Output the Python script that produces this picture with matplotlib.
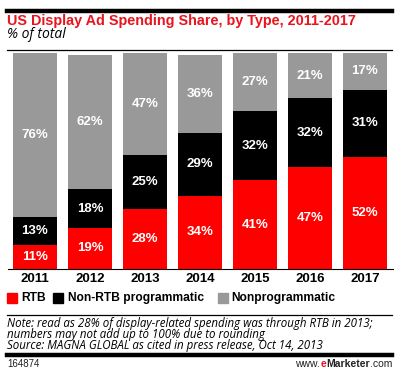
import matplotlib
matplotlib.use("Agg")
import matplotlib.pyplot as plt
from matplotlib.lines import Line2D
from matplotlib.patches import Rectangle

years = ["2011", "2012", "2013", "2014", "2015", "2016", "2017"]
rtb = [11, 19, 28, 34, 41, 47, 52]
non_rtb = [13, 18, 25, 29, 32, 32, 31]
nonprog = [76, 62, 47, 36, 27, 21, 17]
series_names = ["RTB", "Non-RTB programmatic", "Nonprogrammatic"]
colors = ["#ff0000", "#000000", "#999999"]

plt.rcParams["font.family"] = ["Liberation Sans", "DejaVu Sans"]

W, H = 405, 377
fig = plt.figure(figsize=(W / 100, H / 100), dpi=100)
fig.patch.set_facecolor("white")

def fx(px):
    return px / W

def fy(py):
    return 1 - py / H

ax = fig.add_axes([fx(7.5), fy(269), fx(392.5) - fx(7.5), fy(53) - fy(269)])
x = list(range(len(years)))
bottoms = [0] * len(years)
for vals, col in zip([rtb, non_rtb, nonprog], colors):
    ax.bar(x, vals, bottom=bottoms, width=0.8, color=col, edgecolor="none")
    for xi, v, b in zip(x, vals, bottoms):
        ax.text(xi, b + v / 2, f"{v}%", ha="center", va="center", color="white",
                fontsize=9.5, fontweight="bold")
    bottoms = [b + v for b, v in zip(bottoms, vals)]

ax.set_xlim(-0.5, len(years) - 0.5)
ax.set_ylim(0, 100)
ax.set_yticks([])
ax.set_xticks(x)
ax.set_xticklabels(years, fontsize=9.5, fontweight="bold")
ax.tick_params(axis="x", length=0, pad=3)
for s in ["top", "left", "right"]:
    ax.spines[s].set_visible(False)
ax.spines["bottom"].set_color("black")
ax.spines["bottom"].set_linewidth(0.8)

fig.canvas.draw()
renderer = fig.canvas.get_renderer()

def width(t):
    return t.get_window_extent(renderer=renderer).width

def fit(t, target):
    for _ in range(4):
        t.set_fontsize(t.get_fontsize() * target / width(t))

# rules
fig.add_artist(Line2D([fx(7), fx(392)], [fy(10.5), fy(10.5)], color="black", lw=3.2))
fig.add_artist(Line2D([fx(7), fx(392)], [fy(49.5), fy(49.5)], color="black", lw=0.9))
fig.add_artist(Line2D([fx(7), fx(392)], [fy(315), fy(315)], color="black", lw=0.9))
fig.add_artist(Line2D([fx(7), fx(392)], [fy(354.5), fy(354.5)], color="black", lw=3.2))

t = fig.text(fx(7), fy(21.5), "US Display Ad Spending Share, by Type, 2011-2017",
             color="#e8141e", fontsize=10, fontweight="bold", ha="left", va="center")
fit(t, 350)
t = fig.text(fx(7), fy(35), "% of total", color="black", fontsize=8.5, style="italic",
             family="Open Sans", ha="left", va="center")
fit(t, 59)

# legend
leg_sq = [7, 53, 218]
leg_tx = [21, 68, 231]
leg_texts = []
for sq, tx, name, col in zip(leg_sq, leg_tx, series_names, colors):
    fig.add_artist(Rectangle((fx(sq), fy(303)), fx(10), 10 / H, color=col,
                             transform=fig.transFigure))
    leg_texts.append(fig.text(fx(tx), fy(298), name, fontsize=9.5, fontweight="bold",
                              ha="left", va="center"))
fit(leg_texts[1], 136)
for lt in leg_texts:
    lt.set_fontsize(leg_texts[1].get_fontsize())

notes = ["Note: read as 28% of display-related spending was through RTB in 2013;",
         "numbers may not add up to 100% due to rounding",
         "Source: MAGNA GLOBAL as cited in press release, Oct 14, 2013"]
note_y = [323, 334.5, 346]
ts = []
for s, yy in zip(notes, note_y):
    ts.append(fig.text(fx(7), fy(yy), s, fontsize=8, style="italic", family="Open Sans",
                       ha="left", va="center"))
fit(ts[0], 368)
for tt in ts[1:]:
    tt.set_fontsize(ts[0].get_fontsize())

fig.text(fx(7), fy(364), "164874", fontsize=7, ha="left", va="center", color="#222222")

parts = [("www.", "normal", "#222222"), ("e", "bold", "#e8141e"),
         ("Marketer", "bold", "#222222"), (".com", "normal", "#222222")]
pieces = []
for s, wgt, col in parts:
    pieces.append(fig.text(0, fy(364), s, fontsize=7.5, fontweight=wgt, color=col,
                           ha="left", va="center"))
widths = [width(p) for p in pieces]
xpos = 392 - sum(widths)
for p, w in zip(pieces, widths):
    p.set_x(fx(xpos))
    xpos += w

fig.savefig("out.png", dpi=100)
